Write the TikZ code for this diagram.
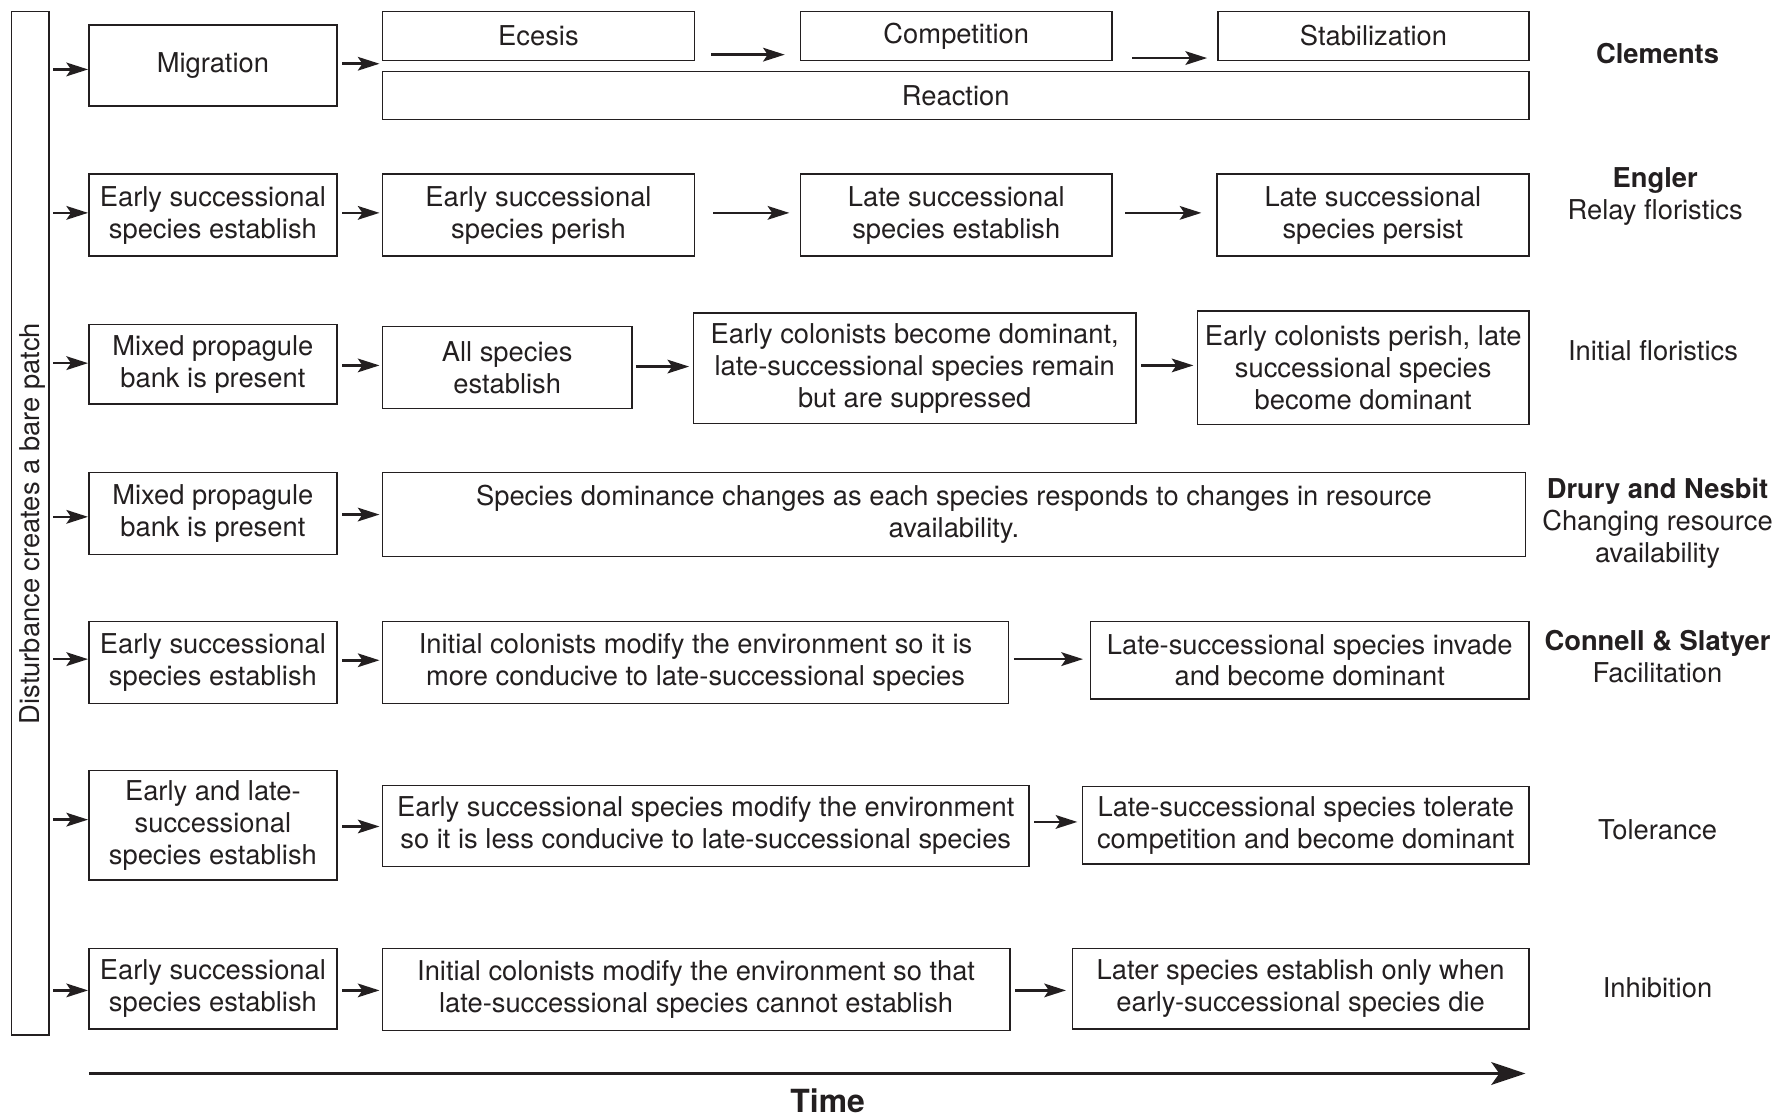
\documentclass[tikz,border=0pt]{standalone}
\usepackage{fontspec}
\setmainfont{TeX Gyre Heros}
\usetikzlibrary{arrows.meta}
\definecolor{ink}{HTML}{231F20}
\begin{document}
\begin{tikzpicture}[x=1pt,y=-1pt,
  txt/.style={font=\fontsize{24}{28}\selectfont, text=ink, align=center},
  box/.style={txt, draw=ink, line width=1.3pt, inner sep=0pt},
  lbl/.style={txt, inner sep=0pt},
  arr/.style={draw=ink, line width=2.2pt, -{Stealth[length=19pt,width=12pt,inset=4pt]}},
  bigarr/.style={draw=ink, line width=2.4pt, -{Stealth[length=30pt,width=20pt,inset=7pt]}}]
\useasboundingbox (0,0) rectangle (1568,981);

% vertical frame on the left
\node[box, minimum width=33pt, minimum height=899pt] (LB) at (26.5,459.5) {};
\node[lbl, rotate=90] (LBt) at (29,460) {Disturbance creates a bare patch};

% Clements
\node[box, minimum width=218pt, minimum height=71pt] (M) at (187,57.5) {Migration};
\node[box, minimum width=274pt, minimum height=43pt] (Ec) at (473,31.5) {Ecesis};
\node[box, minimum width=274pt, minimum height=43pt] (Co) at (840,31.5) {Competition};
\node[box, minimum width=273pt, minimum height=43pt] (St) at (1206.5,31.5) {Stabilization};
\node[box, minimum width=1007pt, minimum height=42pt] (Re) at (839.5,84) {Reaction};
\node[lbl] (L1) at (1456,47) {\bfseries Clements};
\draw[arr, shorten <=3pt] (LB.east |- 0,61) -- (M.west |- 0,61);
\draw[arr, shorten <=4pt, shorten >=2pt] (M.east |- 0,56) -- (Ec.west |- 0,56);
\draw[arr, shorten <=14pt, shorten >=13pt] (Ec.east |- 0,48) -- (Co.west |- 0,48);
\draw[arr, shorten <=17pt, shorten >=9pt] (Co.east |- 0,51) -- (St.west |- 0,51);

% Engler
\node[box, minimum width=218pt, minimum height=72pt] (E1) at (187,189) {Early successional\\species establish};
\node[box, minimum width=274pt, minimum height=72pt] (E2) at (473,189) {Early successional\\species perish};
\node[box, minimum width=274pt, minimum height=72pt] (E3) at (840,189) {Late successional\\species establish};
\node[box, minimum width=274pt, minimum height=72pt] (E4) at (1206,189) {Late successional\\species persist};
\node[lbl] (L2) at (1454,173) {\bfseries Engler\\Relay floristics};
\draw[arr, shorten <=3pt] (LB.east |- 0,187) -- (E1.west |- 0,187);
\draw[arr, shorten <=4pt, shorten >=2pt] (E1.east |- 0,187) -- (E2.west |- 0,187);
\draw[arr, shorten <=16pt, shorten >=9pt] (E2.east |- 0,187) -- (E3.west |- 0,187);
\draw[arr, shorten <=11pt, shorten >=13pt] (E3.east |- 0,187) -- (E4.west |- 0,187);

% Initial floristics
\node[box, minimum width=218pt, minimum height=70pt] (F1) at (187,320) {Mixed propagule\\bank is present};
\node[box, minimum width=219pt, minimum height=72pt] (F2) at (445.5,323) {All species\\establish};
\node[box, minimum width=389pt, minimum height=97pt] (F3) at (803.5,323.5) {Early colonists become dominant,\\late-successional species remain\\but are suppressed};
\node[box, minimum width=291pt, minimum height=100pt] (F4) at (1197.5,323) {Early colonists perish, late\\successional species\\become dominant};
\node[lbl] (L3) at (1452,308) {Initial floristics};
\draw[arr, shorten <=3pt] (LB.east |- 0,319) -- (F1.west |- 0,319);
\draw[arr, shorten <=4pt, shorten >=2pt] (F1.east |- 0,321) -- (F2.west |- 0,321);
\draw[arr, shorten <=3pt, shorten >=3pt] (F2.east |- 0,322) -- (F3.west |- 0,322);
\draw[arr, shorten <=4pt, shorten >=3pt] (F3.east |- 0,321) -- (F4.west |- 0,321);

% Drury and Nesbit
\node[box, minimum width=218pt, minimum height=72pt] (D1) at (187,451) {Mixed propagule\\bank is present};
\node[box, minimum width=1004pt, minimum height=74pt] (D2) at (838,452) {Species dominance changes as each species responds to changes in resource\\availability.};
\node[lbl] (L4) at (1456,459.5) {\bfseries Drury and Nesbit\\Changing resource\\availability};
\draw[arr, shorten <=3pt] (LB.east |- 0,454) -- (D1.west |- 0,454);
\draw[arr, shorten <=4pt, shorten >=2pt] (D1.east |- 0,452) -- (D2.west |- 0,452);

% Connell & Slatyer: facilitation
\node[box, minimum width=218pt, minimum height=72pt] (C1) at (187,582) {Early successional\\species establish};
\node[box, minimum width=550pt, minimum height=72pt] (C2) at (611,582) {Initial colonists modify the environment so it is\\more conducive to late-successional species};
\node[box, minimum width=385pt, minimum height=68pt] (C3) at (1150.5,580) {Late-successional species invade\\and become dominant};
\node[lbl] (L5) at (1456,577) {\bfseries Connell \& Slatyer\\Facilitation};
\draw[arr, shorten <=3pt] (LB.east |- 0,579) -- (C1.west |- 0,579);
\draw[arr, shorten <=4pt, shorten >=2pt] (C1.east |- 0,580) -- (C2.west |- 0,580);
\draw[arr, shorten <=4pt, shorten >=6pt] (C2.east |- 0,579) -- (C3.west |- 0,579);

% Tolerance
\node[box, minimum width=218pt, minimum height=96pt] (T1) at (187,725) {Early and late-\\successional\\species establish};
\node[box, minimum width=568pt, minimum height=71pt] (T2) at (620,725.5) {Early successional species modify the environment\\so it is less conducive to late-successional species};
\node[box, minimum width=392pt, minimum height=68pt] (T3) at (1147,725) {Late-successional species tolerate\\competition and become dominant};
\node[lbl] (L6) at (1456,729) {Tolerance};
\draw[arr, shorten <=3pt] (LB.east |- 0,720) -- (T1.west |- 0,720);
\draw[arr, shorten <=4pt, shorten >=2pt] (T1.east |- 0,726) -- (T2.west |- 0,726);
\draw[arr, shorten <=4pt, shorten >=4pt] (T2.east |- 0,722) -- (T3.west |- 0,722);

% Inhibition
\node[box, minimum width=218pt, minimum height=71pt] (I1) at (187,868.5) {Early successional\\species establish};
\node[box, minimum width=551pt, minimum height=72pt] (I2) at (611.5,869) {Initial colonists modify the environment so that\\late-successional species cannot establish};
\node[box, minimum width=401pt, minimum height=71pt] (I3) at (1142.5,868.5) {Later species establish only when\\early-successional species die};
\node[lbl] (L7) at (1456,868) {Inhibition};
\draw[arr, shorten <=3pt] (LB.east |- 0,870) -- (I1.west |- 0,870);
\draw[arr, shorten <=4pt, shorten >=2pt] (I1.east |- 0,870) -- (I2.west |- 0,870);
\draw[arr, shorten <=4pt, shorten >=5pt] (I2.east |- 0,870) -- (I3.west |- 0,870);

% time axis
\coordinate (t0) at (78,943);
\coordinate (t1) at (1340,943);
\draw[bigarr] (t0) -- (t1);
\node[lbl, font=\fontsize{28}{32}\selectfont\bfseries] (time) at (727,967) {Time};
\end{tikzpicture}
\end{document}
